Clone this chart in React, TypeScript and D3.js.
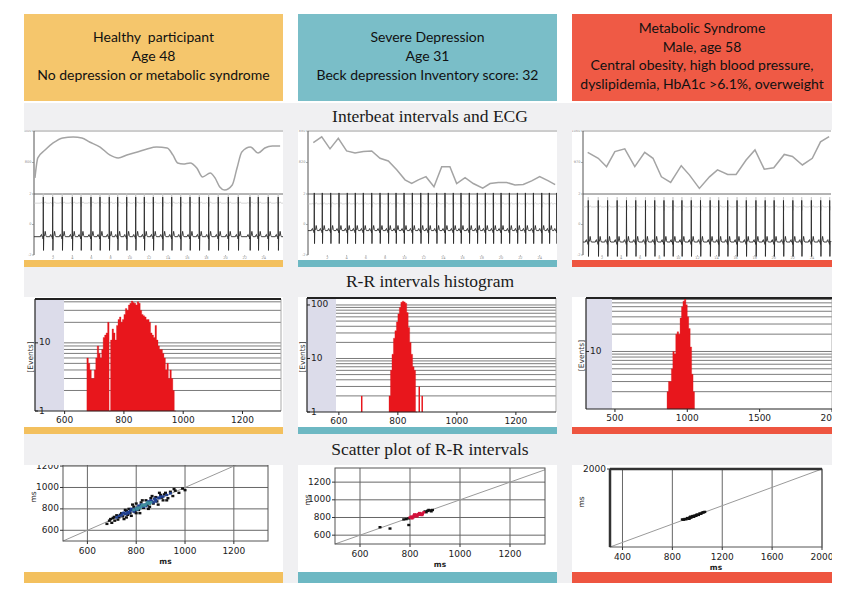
import React from "react";
import * as d3 from "d3";

const W = 866;
const H = 601;

// ---------- text ----------
const headerLines = [
  ["Healthy  participant", "Age 48", "No depression or metabolic syndrome"],
  ["Severe Depression", "Age 31", "Beck depression Inventory score: 32"],
  ["Metabolic Syndrome", "Male, age 58", "Central obesity, high blood pressure,", "dyslipidemia, HbA1c >6.1%, overweight"],
];
const sectionTitles = ["Interbeat intervals and ECG", "R-R intervals histogram", "Scatter plot of R-R intervals"];
const headerColors = ["#f5c66c", "#7abec8", "#ef5a45"];
const barColors = ["#f3c05e", "#6db8c3", "#ee5540"];

// ---------- tachograms (time s, RR ms) ----------
const healthyTachoT = [0.1, 0.4, 1.15, 2.0, 3.0, 4.1, 5.0, 5.8, 6.9, 7.9, 8.8, 9.7, 10.8, 11.8, 12.8, 13.9, 14.5, 15.0, 15.6, 16.3, 17.0, 17.6, 18.4, 18.9, 19.4, 19.9, 20.7, 21.2, 21.7, 22.6, 23.4, 24.1, 24.9, 25.7];
const healthyTachoRR = [702, 829, 879, 924, 956, 962, 956, 930, 898, 848, 829, 848, 867, 886, 898, 892, 848, 797, 790, 797, 765, 708, 733, 702, 644, 625, 657, 765, 867, 898, 860, 892, 905, 905];
const depressedTachoT = [0.55, 1.42, 2.28, 3.14, 4.0, 4.87, 5.73, 6.6, 7.46, 8.32, 9.19, 10.05, 10.74, 11.43, 12.22, 13.05, 13.85, 14.7, 15.4, 16.27, 17.12, 18.1, 18.86, 19.71, 20.58, 21.44, 22.3, 23.17, 24.0, 24.9, 25.6];
const depressedTachoRR = [858, 869, 846, 866, 842, 838, 841, 842, 828, 823, 806, 787, 780, 787, 793, 774, 812, 812, 780, 791, 780, 771, 780, 782, 782, 777, 778, 785, 793, 785, 778];
const metabolicTachoT = [0.49, 1.6, 2.47, 3.34, 4.38, 5.43, 6.47, 7.34, 8.22, 9.19, 10.3, 11.17, 12.2, 13.26, 14.1, 15.17, 16.05, 17.1, 18.03, 19.0, 20.0, 21.1, 21.96, 23.0, 24.04, 24.9, 25.8];
const metabolicTachoRR = [999, 982, 958, 1001, 1009, 958, 999, 982, 929, 913, 961, 934, 896, 929, 949, 936, 936, 977, 1006, 951, 955, 993, 987, 963, 982, 1029, 1044];
const tachoDomains = [[600, 1000], [760, 880], [880, 1060]];

// ---------- ECG R-peak times (s) ----------
const healthyBeats = [0.97, 1.95, 2.95, 4.0, 4.91, 5.95, 6.89, 7.86, 8.74, 9.68, 10.62, 11.52, 12.46, 13.44, 14.38, 15.32, 16.29, 17.26, 18.24, 19.24, 20.29, 21.33, 22.55, 23.42, 24.46, 25.5];
const depressedBeats = [0.65, 1.48, 2.35, 3.21, 4.07, 4.9, 5.73, 6.6, 7.46, 8.32, 9.12, 9.95, 10.81, 11.68, 12.46, 13.33, 14.19, 15.05, 15.85, 16.71, 17.54, 18.37, 19.2, 20.0, 20.86, 21.69, 22.52, 23.35, 24.21, 25.0, 25.77];
const metabolicBeats = [0.55, 1.6, 2.58, 3.58, 4.56, 5.53, 6.55, 7.52, 8.49, 9.43, 10.37, 11.35, 12.32, 13.33, 14.23, 15.17, 16.15, 17.12, 18.13, 19.1, 20.04, 21.02, 22.0, 22.93, 23.94, 24.92, 25.86];
const ecgTemplateDt = [-0.3, -0.24, -0.19, -0.14, -0.05, -0.02, 0, 0.025, 0.05, 0.12, 0.2, 0.27, 0.33];
const ecgTemplateMv = [0, 0.12, 0.15, 0, 0, -0.15, 2.6, -0.9, 0, 0.05, 0.35, 0.08, 0];
const ecgBaseline = [-0.8, -0.4, -1.15];
const ecgGain = [1, 0.95, 1.05];
const ghostBaseline = [1.4, 1.35, 1.15];

// ---------- histograms ----------
const healthyHistStart = 675;
const healthyHistCounts = [6, 5, 4, 3, 3, 4, 6, 9, 7, 6, 8, 12, 13, 14, 20, 1, 11, 16, 14, 11, 18, 22, 24, 20, 22, 26, 32, 30, 36, 38, 41, 39, 38, 36, 40, 38, 30, 26, 25, 24, 22, 22, 20, 14, 13, 12, 18, 11, 9, 8, 8, 7, 6, 4, 5, 3, 4, 3, 2, 1];
const depressedHistStart = 770;
const depressedHistCounts = [2, 6, 12, 24, 33, 48, 68, 90, 112, 118, 114, 108, 72, 38, 20, 12, 7, 6, 1];
const depressedHistOutlierMs = [675, 870, 880];
const depressedHistOutlierCounts = [2, 3, 2];
const metabolicHistStart = 860;
const metabolicHistCounts = [2, 3, 3, 5, 10, 9, 20, 22, 20, 38, 60, 75, 85, 65, 40, 25, 12, 4, 2];
const histBinWidth = [5, 5, 10];
const histXDomains = [[500, 1330], [492, 1336], [300, 2000]];
const histYMax = [44, 135, 85];
const histXTicks = [[600, 800, 1000, 1200], [600, 800, 1000, 1200], [500, 1000, 1500, 2000]];
const histYTicks = [[1, 10], [1, 10, 100], [10]];

// ---------- Poincare plots [RRn, RRn+1, density] ----------
const healthyPoincare = [
  [680, 660, 0], [690, 690, 0], [700, 670, 0], [705, 715, 0], [712, 690, 0], [720, 740, 0], [725, 700, 0], [730, 722, 0],
  [740, 760, 0], [745, 730, 0], [750, 705, 0], [760, 780, 0], [765, 745, 0], [770, 800, 0], [775, 760, 0], [780, 735, 0],
  [790, 820, 0], [795, 770, 0], [800, 850, 0], [810, 790, 0], [815, 760, 0], [820, 860, 0], [830, 810, 0], [840, 880, 0],
  [845, 835, 0], [850, 800, 0], [860, 900, 0], [870, 850, 0], [880, 910, 0], [885, 870, 0], [890, 840, 0], [900, 930, 0],
  [910, 880, 0], [920, 950, 0], [930, 900, 0], [940, 960, 0], [950, 920, 0], [960, 970, 0], [975, 950, 0], [990, 990, 0],
  [1000, 975, 0], [955, 985, 0], [905, 905, 0], [760, 720, 0], [735, 745, 0], [785, 840, 0], [865, 920, 0], [925, 880, 0],
  [695, 705, 0], [710, 725, 0], [755, 790, 0], [800, 760, 0], [825, 880, 0], [855, 820, 0], [895, 950, 0], [915, 935, 0],
  [720, 720, 1], [740, 740, 1], [755, 750, 1], [765, 770, 1], [775, 780, 1], [785, 790, 1], [795, 800, 1], [805, 810, 1],
  [815, 815, 1], [825, 830, 1], [835, 840, 1], [845, 850, 1], [855, 860, 1], [865, 870, 1], [880, 885, 1], [895, 900, 1],
  [910, 915, 1], [925, 930, 1], [770, 760, 1], [790, 775, 1], [810, 830, 1], [830, 820, 1], [850, 870, 1], [870, 860, 1],
  [890, 905, 1], [780, 800, 1], [800, 790, 1], [820, 840, 1], [840, 825, 1], [860, 880, 1], [875, 895, 1], [750, 765, 1],
  [730, 735, 1], [760, 755, 1], [880, 870, 1], [900, 915, 1], [940, 945, 1], [745, 760, 1],
  [790, 790, 2], [800, 805, 2], [810, 812, 2], [820, 822, 2], [830, 835, 2], [840, 842, 2], [850, 855, 2], [860, 862, 2],
  [815, 805, 2], [835, 830, 2], [825, 838, 2], [845, 860, 2], [805, 795, 2], [855, 848, 2],
];
const depressedPoincare = [
  [775, 778, 0], [785, 782, 0], [795, 790, 0], [870, 875, 0], [880, 880, 0], [890, 885, 0], [885, 870, 0], [875, 885, 0],
  [860, 868, 0], [680, 690, 0], [720, 675, 0], [795, 715, 0], [865, 860, 0],
  [800, 800, 1], [805, 810, 1], [810, 805, 1], [815, 820, 1], [820, 815, 1], [825, 830, 1], [830, 825, 1], [835, 840, 1],
  [840, 830, 1], [845, 845, 1], [850, 840, 1], [808, 790, 1], [818, 835, 1], [828, 812, 1], [838, 850, 1], [848, 828, 1],
  [855, 858, 1], [812, 800, 1], [822, 826, 1], [832, 836, 1],
];
const metabolicPoincare = [
  [880, 900, 0], [890, 895, 0], [900, 910, 0], [910, 905, 0], [920, 930, 0], [930, 925, 0], [940, 945, 0], [950, 940, 0],
  [960, 965, 0], [970, 960, 0], [980, 985, 0], [990, 980, 0], [1000, 1005, 0], [1010, 1000, 0], [1020, 1030, 0], [1030, 1025, 0],
  [1040, 1050, 0], [1050, 1055, 0], [1060, 1065, 0], [935, 915, 0], [965, 975, 0], [995, 1000, 0], [945, 960, 0], [975, 970, 0],
];
const scatterXDomains = [[500, 1340], [500, 1340], [300, 2000]];
const scatterYDomains = [[500, 1210], [500, 1360], [300, 2000]];
const scatterXTicks = [[600, 800, 1000, 1200], [600, 800, 1000, 1200], [400, 800, 1200, 1600, 2000]];
const scatterYTicks = [[600, 800, 1000, 1200], [600, 800, 1000, 1200], [2000]];

// ---------- layout ----------
const cols = [
  { x0: 24, x1: 283 },
  { x0: 298, x1: 557 },
  { x0: 572, x1: 832 },
];
const ecgLeft = [34, 308, 583];
const ecgRight = [283, 559, 831];
const histLeft = [35, 307, 586];
const histShade = [64, 336, 612];
const histRight = [281, 556, 832];
const histTop = [299, 298, 298];
const histBottom = [411, 412, 409];
const scLeft = [63, 335, 610];
const scRight = [268, 545, 822];
const scTop = [465, 468, 469];
const scBottom = [541, 544, 547];

const tachoT = [healthyTachoT, depressedTachoT, metabolicTachoT];
const tachoRR = [healthyTachoRR, depressedTachoRR, metabolicTachoRR];
const beats = [healthyBeats, depressedBeats, metabolicBeats];
const histStarts = [healthyHistStart, depressedHistStart, metabolicHistStart];
const histCounts = [healthyHistCounts, depressedHistCounts, metabolicHistCounts];
const poincare = [healthyPoincare, depressedPoincare, metabolicPoincare];
const densityColors = [
  ["#111111", "#1f3f8f", "#3f8e9c"],
  ["#111111", "#d3123c", "#d3123c"],
  ["#111111", "#111111", "#111111"],
];

const SANS = "'DejaVu Sans', Verdana, sans-serif";

function buildEcg(beatTimes: number[], base: number, gain: number, tMax: number) {
  const pts: [number, number][] = [[0, base]];
  beatTimes.forEach((b) => {
    ecgTemplateDt.forEach((dt, i) => {
      const t = b + dt;
      if (t >= 0 && t <= tMax) pts.push([t, base + gain * ecgTemplateMv[i]]);
    });
  });
  pts.push([tMax, base]);
  return pts;
}

function EcgPanel({ c }: { c: number }) {
  const L = ecgLeft[c], R = ecgRight[c];
  const top = 131, mid = 194, bot = 255;
  const x = d3.scaleLinear().domain([0, 26]).range([L, R]);
  const yT = d3.scaleLinear().domain(tachoDomains[c]).range([mid, top]);
  const yE = d3.scaleLinear().domain([-2, 2]).range([bot, mid]);
  const tachoLine = d3
    .line<number>()
    .x((_, i) => x(tachoT[c][i]))
    .y((d) => yT(d))
    .curve(c === 0 ? d3.curveMonotoneX : d3.curveLinear);
  const ecg = buildEcg(beats[c], ecgBaseline[c], ecgGain[c], 26);
  const ghost = buildEcg(beats[c], ghostBaseline[c], 0.25, 26);
  const ecgLine = d3.line<[number, number]>().x((d) => x(d[0])).y((d) => yE(d[1]));
  const [d0, d1] = tachoDomains[c];
  const tTicks = [(d0 + d1) / 2, d1];
  const timeTicks = d3.range(2, 26, 2);
  return (
    <g>
      <line x1={L} x2={R} y1={top} y2={top} stroke="#9a9a9a" strokeWidth={1} />
      <line x1={L} x2={R} y1={mid} y2={mid} stroke="#6a6a6a" strokeWidth={1} />
      <line x1={L} x2={L} y1={top} y2={bot} stroke="#555" strokeWidth={1} />
      {tTicks.map((v, i) => (
        <g key={"tt" + i}>
          <line x1={L - 2} x2={L} y1={yT(v)} y2={yT(v)} stroke="#777" strokeWidth={0.6} />
          <text x={L - 2.5} y={yT(v)} fontSize={3.5} fill="#888" textAnchor="end" dominantBaseline="middle" fontFamily={SANS}>
            {v}
          </text>
        </g>
      ))}
      {[-2, 0, 2].map((v, i) => (
        <g key={"et" + i}>
          <line x1={L - 2} x2={L} y1={yE(v)} y2={yE(v)} stroke="#777" strokeWidth={0.6} />
          <text x={L - 2.5} y={yE(v)} fontSize={3.5} fill="#888" textAnchor="end" dominantBaseline="middle" fontFamily={SANS}>
            {v}
          </text>
        </g>
      ))}
      {timeTicks.map((t) => (
        <g key={"x" + t}>
          <line x1={x(t)} x2={x(t)} y1={bot} y2={bot + 1.5} stroke="#888" strokeWidth={0.6} />
          <text x={x(t)} y={bot + 3.5} fontSize={3.5} fill="#888" textAnchor="middle" dominantBaseline="middle" fontFamily={SANS}>
            {t}
          </text>
        </g>
      ))}
      <path d={ecgLine(ghost) || ""} fill="none" stroke="#c4c4c4" strokeWidth={0.7} />
      <path d={tachoLine(tachoRR[c]) || ""} fill="none" stroke="#a4a4a4" strokeWidth={1.5} />
      <path d={ecgLine(ecg) || ""} fill="none" stroke="#2a2a2a" strokeWidth={0.9} />
    </g>
  );
}

function HistPanel({ c }: { c: number }) {
  const L = histLeft[c], R = histRight[c], top = histTop[c], bot = histBottom[c], S = histShade[c];
  const x = d3.scaleLinear().domain(histXDomains[c]).range([L, R]);
  const y = d3.scaleLog().domain([1, histYMax[c]]).range([bot, top]);
  const grid: number[] = [];
  [1, 10, 100].forEach((dec) => {
    for (let k = dec === 1 ? 2 : 1; k <= 9; k++) {
      const v = k * dec;
      if (v < histYMax[c]) grid.push(v);
    }
  });
  const bw = histBinWidth[c];
  const pts: [number, number][] = [[x(histStarts[c]), bot]];
  histCounts[c].forEach((n, i) => {
    const x0 = x(histStarts[c] + i * bw);
    const x1 = x(histStarts[c] + (i + 1) * bw);
    const yy = y(Math.max(1, n));
    pts.push([x0, yy], [x1, yy]);
  });
  pts.push([x(histStarts[c] + histCounts[c].length * bw), bot]);
  const body = "M" + pts.map((p) => p[0].toFixed(2) + "," + p[1].toFixed(2)).join("L") + "Z";
  const outliers = c === 1 ? depressedHistOutlierMs.map((m, i) => ({ m, n: depressedHistOutlierCounts[i] })) : [];
  return (
    <g>
      <rect x={L} y={top} width={S - L} height={bot - top} fill="#dcdcea" />
      {grid.map((v) => (
        <line key={v} x1={S} x2={R} y1={y(v)} y2={y(v)} stroke="#7c7c7c" strokeWidth={1} />
      ))}
      <path d={body} fill="#e8161c" stroke="#d81015" strokeWidth={0.3} />
      {outliers.map((o, i) => (
        <rect key={i} x={x(o.m)} y={y(o.n)} width={Math.max(1, x(o.m + bw) - x(o.m))} height={bot - y(o.n)} fill="#e8161c" />
      ))}
      <line x1={R} x2={R} y1={top} y2={bot} stroke="#aaa" strokeWidth={1} />
      <line x1={L} x2={R} y1={top} y2={top} stroke="#222" strokeWidth={2} />
      <line x1={L} x2={L} y1={top} y2={bot} stroke="#222" strokeWidth={1.2} />
      <line x1={L} x2={R} y1={bot} y2={bot} stroke="#222" strokeWidth={1.2} />
      {histYTicks[c].map((v) => (
        <g key={"y" + v}>
          <line x1={L} x2={L + 3} y1={y(v)} y2={y(v)} stroke="#222" strokeWidth={1} />
          <text x={L + 4} y={y(v)} fontSize={9} fill="#222" dominantBaseline="middle" fontFamily={SANS}>
            {v}
          </text>
        </g>
      ))}
      <text
        transform={`translate(${L - 2.5},${(top + bot) / 2 + 2}) rotate(-90)`}
        fontSize={7.5}
        fill="#333"
        textAnchor="middle"
        fontFamily={SANS}
      >
        [Events]
      </text>
      {histXTicks[c].map((v) => (
        <g key={"x" + v}>
          <line x1={x(v)} x2={x(v)} y1={bot} y2={bot + 3} stroke="#222" strokeWidth={1} />
          <text x={x(v)} y={bot + 12} fontSize={9} fill="#222" textAnchor="middle" fontFamily={SANS}>
            {v}
          </text>
        </g>
      ))}
    </g>
  );
}

function ScatterPanel({ c }: { c: number }) {
  const L = scLeft[c], R = scRight[c], top = scTop[c], bot = scBottom[c];
  const x = d3.scaleLinear().domain(scatterXDomains[c]).range([L, R]);
  const y = d3.scaleLinear().domain(scatterYDomains[c]).range([bot, top]);
  const lo = Math.max(scatterXDomains[c][0], scatterYDomains[c][0]);
  const hi = Math.min(scatterXDomains[c][1], scatterYDomains[c][1]);
  const thick = c === 2;
  return (
    <g>
      {scatterXTicks[c].map((v) => (
        <line key={"gx" + v} x1={x(v)} x2={x(v)} y1={top} y2={bot} stroke="#666" strokeWidth={1} />
      ))}
      {scatterYTicks[c].map((v) => (
        <line key={"gy" + v} x1={L} x2={R} y1={y(v)} y2={y(v)} stroke="#666" strokeWidth={1} />
      ))}
      <line x1={x(lo)} y1={y(lo)} x2={x(hi)} y2={y(hi)} stroke="#9a9a9a" strokeWidth={1} />
      {poincare[c].map((p, i) => (
        <rect key={i} x={x(p[0]) - 1.5} y={y(p[1]) - 1.2} width={3} height={2.4} fill={densityColors[c][p[2]]} />
      ))}
      <rect x={L} y={top} width={R - L} height={bot - top} fill="none" stroke="#555" strokeWidth={1} />
      {thick && (
        <g>
          <line x1={L} x2={R} y1={top} y2={top} stroke="#333" strokeWidth={2.5} />
          <line x1={L} x2={L} y1={top} y2={bot} stroke="#333" strokeWidth={2.5} />
        </g>
      )}
      {scatterYTicks[c].map((v) => (
        <g key={"ty" + v}>
          <line x1={L - 3} x2={L} y1={y(v)} y2={y(v)} stroke="#333" strokeWidth={1} />
          <text x={L - 4} y={y(v)} fontSize={9} fill="#222" textAnchor="end" dominantBaseline="middle" fontFamily={SANS}>
            {v}
          </text>
        </g>
      ))}
      {scatterXTicks[c].map((v) => (
        <g key={"tx" + v}>
          <line x1={x(v)} x2={x(v)} y1={bot} y2={bot + 3} stroke="#333" strokeWidth={1} />
          <text x={x(v)} y={bot + 13} fontSize={9} fill="#222" textAnchor="middle" fontFamily={SANS}>
            {v}
          </text>
        </g>
      ))}
      <text x={(L + R) / 2} y={bot + 23} fontSize={7.5} fontWeight="bold" fill="#222" textAnchor="middle" fontFamily={SANS}>
        ms
      </text>
      <text
        transform={`translate(${cols[c].x0 + 12},${(top + bot) / 2 - 6}) rotate(-90)`}
        fontSize={7.5}
        fill="#222"
        textAnchor="middle"
        fontFamily={SANS}
      >
        ms
      </text>
    </g>
  );
}

export default function App() {
  const sec = [
    { bandTop: 103, bandBot: 130, white: [130, 260], bar: [260, 267] },
    { bandTop: 267, bandBot: 297, white: [297, 427], bar: [427, 434] },
    { bandTop: 434, bandBot: 465, white: [465, 572], bar: [572, 583] },
  ];
  return (
    <svg width={W} height={H} viewBox={`0 0 ${W} ${H}`} style={{ position: "absolute", left: 0, top: 0, background: "#fff" }}>
      <defs>
        {cols.map((col, i) => (
          <clipPath id={"col" + i} key={i}>
            <rect x={col.x0} y={0} width={col.x1 - col.x0} height={H} />
          </clipPath>
        ))}
      </defs>
      <rect x={0} y={0} width={W} height={H} fill="#ffffff" />
      {cols.map((col, i) => {
        const lines = headerLines[i];
        const lh = 18.8;
        const cy = 57.5;
        const start = cy - ((lines.length - 1) * lh) / 2;
        return (
          <g key={"h" + i}>
            <rect x={col.x0} y={14} width={col.x1 - col.x0} height={87} fill={headerColors[i]} />
            {lines.map((t, k) => (
              <text
                key={k}
                x={(col.x0 + col.x1) / 2}
                y={start + k * lh}
                fontSize={14}
                fill="#111"
                textAnchor="middle"
                dominantBaseline="middle"
                fontFamily="Lato, 'Open Sans', sans-serif"
                style={{ whiteSpace: "pre" }}
              >
                {t}
              </text>
            ))}
          </g>
        );
      })}
      <rect x={24} y={103} width={808} height={480} fill="#f0f0f2" />
      {sec.map((s, si) =>
        cols.map((col, ci) => (
          <rect key={"w" + si + ci} x={col.x0} y={s.white[0]} width={col.x1 - col.x0} height={s.white[1] - s.white[0]} fill="#ffffff" />
        ))
      )}
      {cols.map((_, c) => (
        <g key={"p" + c} clipPath={`url(#col${c})`}>
          <EcgPanel c={c} />
          <HistPanel c={c} />
          <ScatterPanel c={c} />
        </g>
      ))}
      {sec.map((s, si) => (
        <g key={"band" + si}>
          <rect x={24} y={s.bandTop} width={808} height={s.bandBot - s.bandTop} fill="#f0f0f2" />
          <text
            x={430}
            y={(s.bandTop + s.bandBot) / 2 + 1}
            fontSize={17.5}
            fill="#1a1a1a"
            textAnchor="middle"
            dominantBaseline="middle"
            fontFamily="'Liberation Serif', 'DejaVu Serif', serif"
          >
            {sectionTitles[si]}
          </text>
          {cols.map((col, ci) => (
            <rect key={"bar" + ci} x={col.x0} y={s.bar[0]} width={col.x1 - col.x0} height={s.bar[1] - s.bar[0]} fill={barColors[ci]} />
          ))}
        </g>
      ))}
    </svg>
  );
}
